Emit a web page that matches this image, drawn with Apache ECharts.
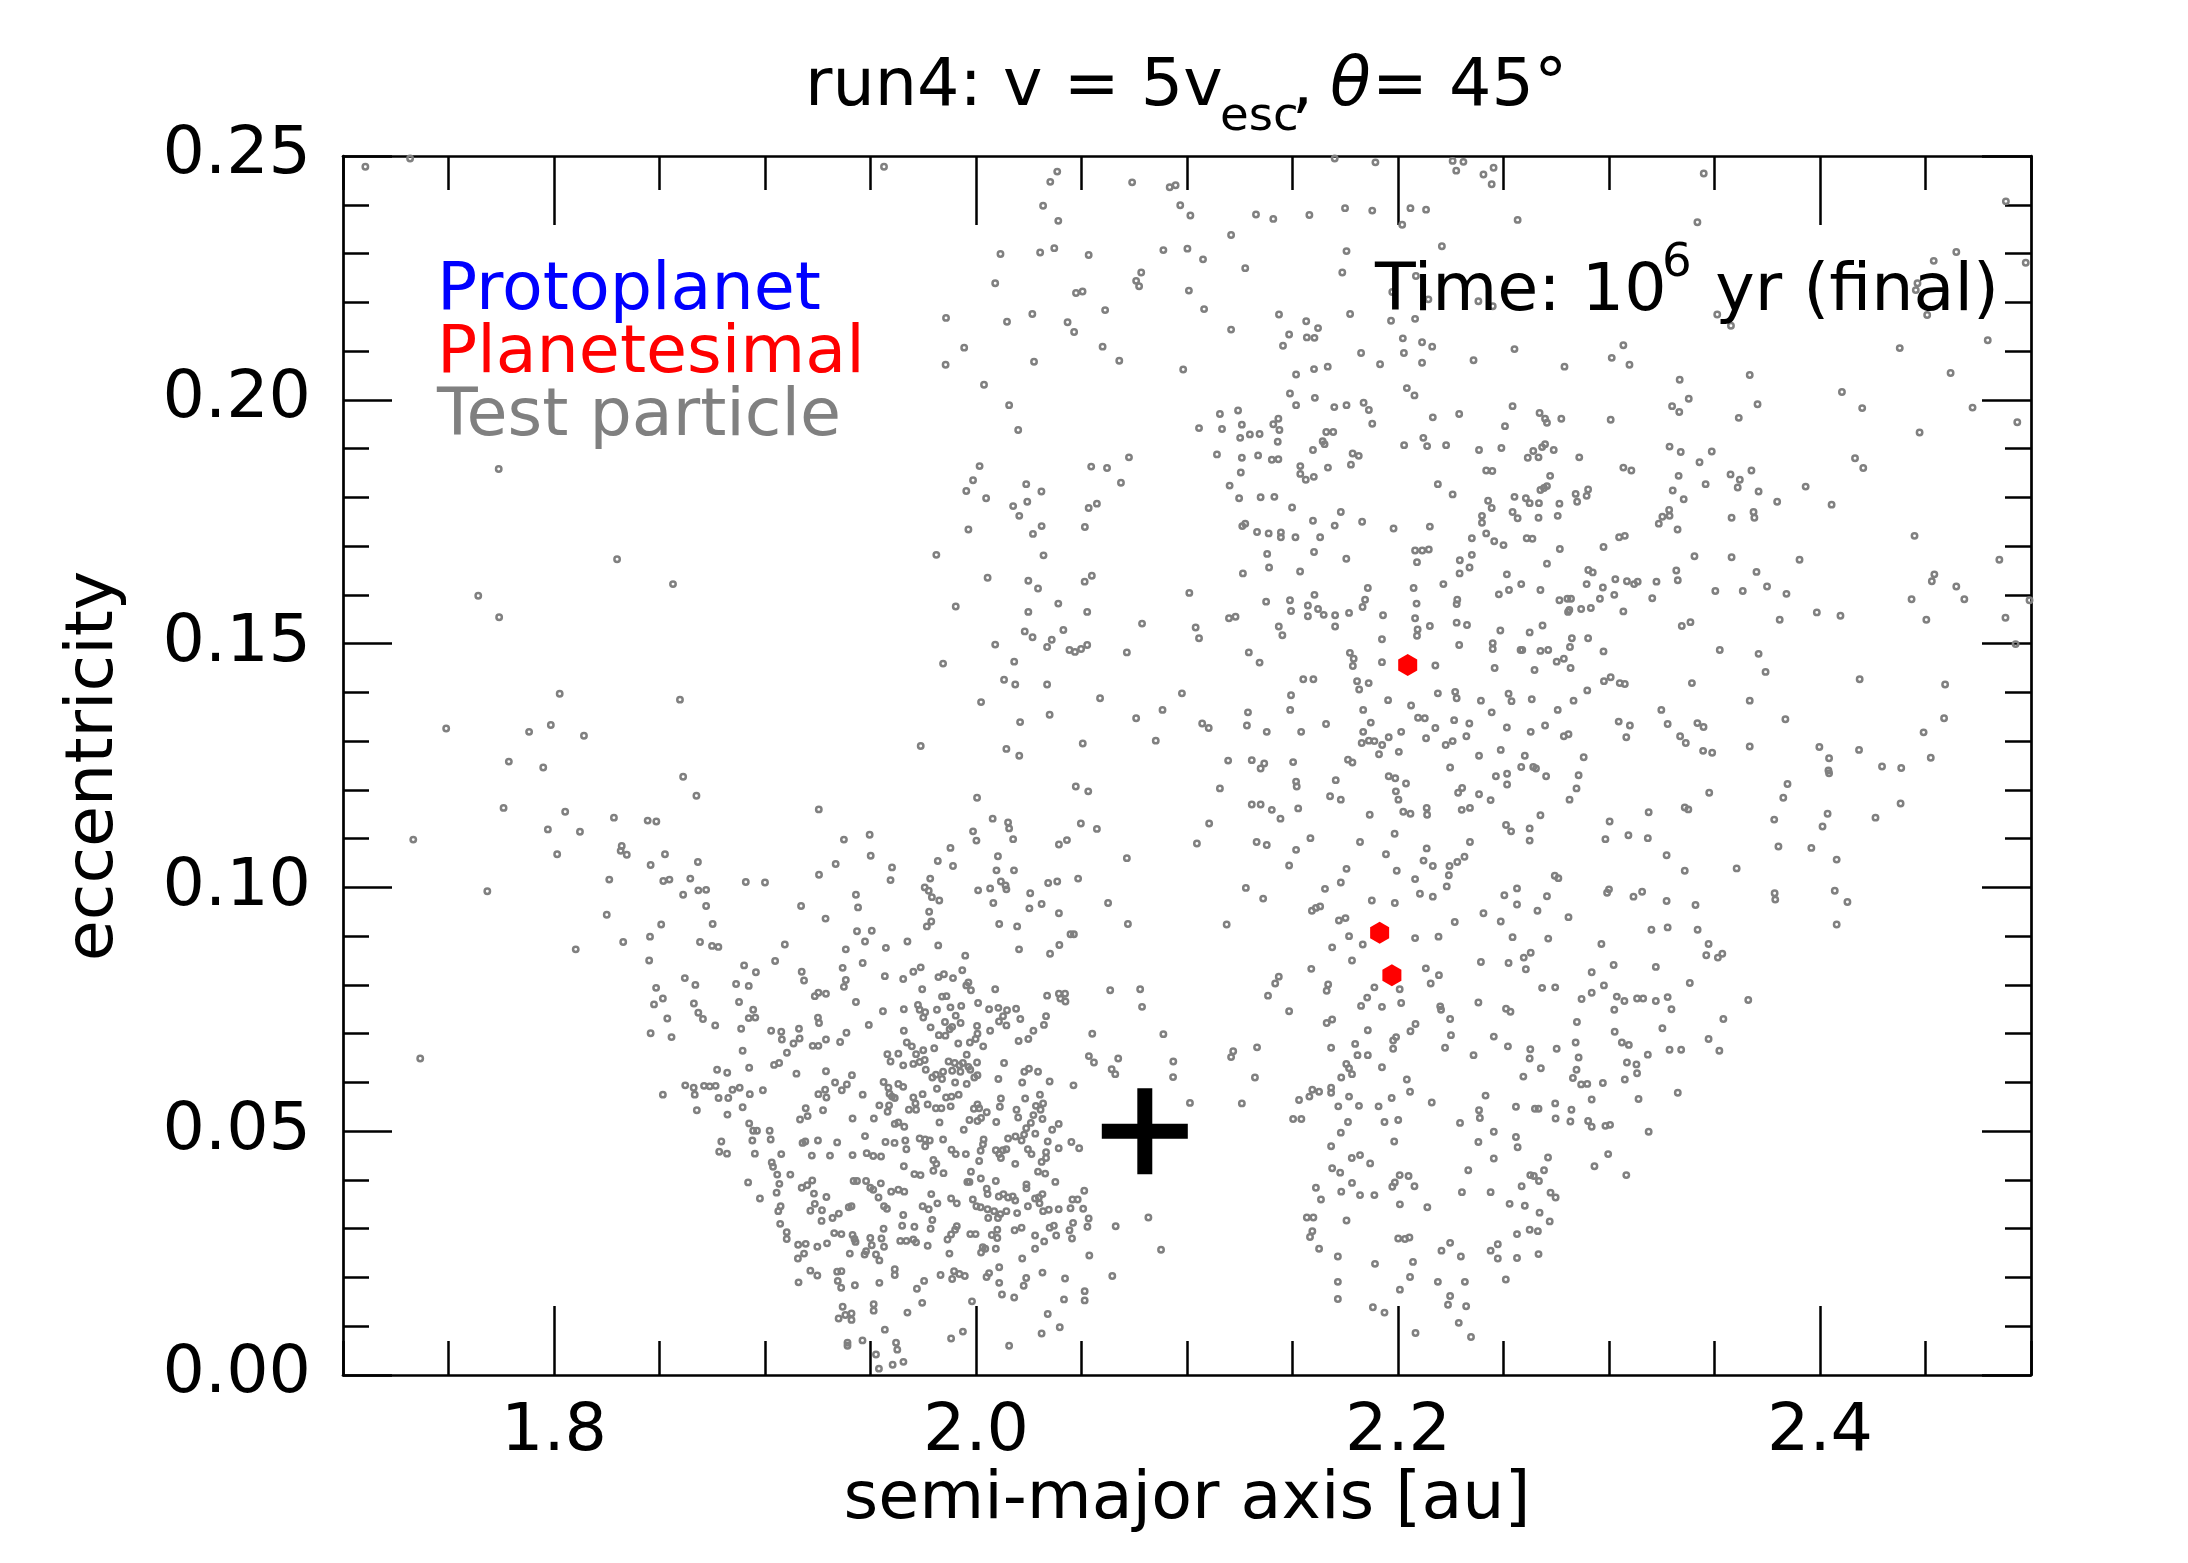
<!DOCTYPE html>
<html>
<head>
<meta charset="utf-8">
<script src="https://cdn.jsdelivr.net/npm/echarts@6/dist/echarts.min.js"></script>
<style>html,body{margin:0;padding:0;background:#fff}#c{width:2188px;height:1563px}</style>
</head>
<body>
<div id="c"></div>
<script>
// ---------------- data ----------------
const xMajorTicks = [1.8, 2.0, 2.2, 2.4];
const protoplanet = [[2.08, 0.05]];
const planetesimals = [[2.2046, 0.1456], [2.1913, 0.0907], [2.1971, 0.0820]];

const tpUpperLeft = [[1.7106,0.2478],[1.7318,0.2495],[1.9564,0.2478],[1.7738,0.1858],[1.8299,0.1673],[1.8564,0.1622],[1.7641,0.1598],[1.774,0.1554],[1.8027,0.1397],[1.8597,0.1385],[1.7489,0.1326],[1.7882,0.1319],[1.7985,0.1333],[1.8142,0.1311],[1.7786,0.1258],[1.7949,0.1246]];

const tpLowerLeft = [[1.8612,0.1227],[1.8675,0.1188],[1.7761,0.1163],[1.8053,0.1155],[1.7333,0.1098],[1.7971,0.1119],[1.8123,0.1114],[1.8284,0.1143],[1.8444,0.1137],[1.8485,0.1135],[1.9255,0.1160],[1.9496,0.1108],[1.9374,0.1098],[1.8015,0.1068],[1.8321,0.1085],[1.8316,0.1075],[1.8345,0.1067],[1.8526,0.1068],[1.8458,0.1046],[1.8682,0.1052],[1.9501,0.1065],[1.9602,0.1041],[1.9595,0.1015],[1.9335,0.1048],[1.9256,0.1026],[1.8262,0.1016],[1.8518,0.1013],[1.8547,0.1016],[1.8646,0.1018],[1.8612,0.0985],[1.8684,0.0994],[1.8721,0.0995],[1.8909,0.1011],[1.9,0.1010],[1.7684,0.0992],[1.8721,0.0962],[1.9171,0.0962],[1.9431,0.0985],[1.9441,0.0959],[1.9287,0.0936],[1.825,0.0944],[1.8508,0.0924],[1.8752,0.0925],[1.8455,0.0899],[1.8328,0.0888],[1.8103,0.0873],[1.8692,0.0888],[1.8749,0.0880],[1.8779,0.0878],[1.9094,0.0883],[1.9436,0.0910],[1.9506,0.0911],[1.9474,0.0889],[1.9383,0.0873],[1.9573,0.0876],[1.9675,0.0889],[1.8451,0.0850],[1.9048,0.0849],[1.9463,0.0845],[1.8901,0.0840],[1.8957,0.0826],[1.9174,0.0827],[1.9185,0.0809],[1.9368,0.0835],[1.9383,0.0810],[1.9374,0.0796],[1.9568,0.0818],[1.9655,0.0812],[1.862,0.0814],[1.867,0.0800],[1.8863,0.0802],[1.8923,0.0798],[1.8484,0.0794],[1.9236,0.0777],[1.9253,0.0784],[1.9289,0.0782],[1.8474,0.0760],[1.8516,0.0772],[1.8663,0.0762],[1.8877,0.0765],[1.9431,0.0765],[1.9559,0.0746],[1.9658,0.0750],[1.8684,0.0743],[1.8706,0.0730],[1.8537,0.0731],[1.8764,0.0717],[1.8944,0.0749],[1.8923,0.0732],[1.8954,0.0733],[1.8887,0.0710],[1.9251,0.0733],[1.9256,0.0722],[1.9492,0.0718],[1.8458,0.0701],[1.8557,0.0693],[1.9029,0.0706],[1.9077,0.0704],[1.908,0.0688],[1.9161,0.0710],[1.9164,0.0690],[1.9135,0.0680],[1.9104,0.0661],[1.9226,0.0675],[1.9253,0.0675],[1.9289,0.0688],[1.9356,0.0683],[1.9386,0.0702],[1.9658,0.0706],[1.9672,0.0682],[1.8894,0.0665],[1.958,0.0658],[1.9632,0.0659],[1.9595,0.0643],[1.9655,0.0635],[1.7366,0.0649],[1.8773,0.0626],[1.8821,0.0620],[1.8925,0.0630],[1.9043,0.0636],[1.9067,0.0640],[1.9149,0.0618],[1.9289,0.0623],[1.9412,0.0615],[1.9332,0.0600],[1.9388,0.0596],[1.9364,0.0584],[1.9285,0.0585],[1.9253,0.0576],[1.9291,0.0569],[1.9562,0.0601],[1.9585,0.0589],[1.9632,0.0597],[1.9655,0.0591],[1.9590,0.0577],[1.9602,0.0571],[1.9615,0.0568],[1.8622,0.0594],[1.8662,0.0589],[1.8667,0.0575],[1.8711,0.0593],[1.8738,0.0592],[1.8766,0.0593],[1.8846,0.0585],[1.888,0.0589],[1.899,0.0584],[1.8928,0.0576],[1.878,0.0568],[1.8826,0.0568],[1.8516,0.0575],[1.9463,0.0575],[1.9542,0.0553],[1.9588,0.0553],[1.9581,0.0540],[1.8894,0.0549],[1.9275,0.0543],[1.8677,0.0543],[1.8822,0.0534],[1.9193,0.0547],[1.9202,0.0531],[1.9166,0.0524],[1.9415,0.0526],[1.9516,0.0526],[1.9615,0.0515],[1.9632,0.0518],[1.966,0.0509],[1.8925,0.0516],[1.8944,0.0501],[1.8962,0.0501],[1.894,0.0481],[1.9022,0.0501],[1.9027,0.0483],[1.8793,0.0479],[1.8783,0.0458],[1.882,0.0454],[1.9178,0.0476],[1.9191,0.0479],[1.9251,0.0481],[1.9342,0.0477],[1.9474,0.0490],[1.9571,0.0478],[1.9614,0.0476],[1.9665,0.0481],[1.967,0.0463],[1.8952,0.0454],[1.9077,0.0453],[1.9222,0.0450],[1.9308,0.0450],[1.9415,0.0451],[1.9482,0.0455],[1.9513,0.0449],[1.955,0.0448],[1.9032,0.0436],[1.9038,0.0427],[1.9058,0.0411],[1.9658,0.0428],[1.912,0.0411],[1.892,0.0395],[1.9068,0.0392],[1.9055,0.0374],[1.8976,0.0362],[1.9174,0.0384],[1.92,0.0389],[1.9224,0.0399],[1.9232,0.0372],[1.9291,0.0365],[1.942,0.0398],[1.9436,0.0398],[1.9479,0.0398],[1.9499,0.0384],[1.9513,0.0380],[1.9549,0.0393],[1.9538,0.0364],[1.9598,0.0376],[1.9632,0.0380],[1.966,0.0376],[1.9236,0.0351],[1.9215,0.0337],[1.927,0.0338],[1.9268,0.0316],[1.9074,0.0346],[1.9063,0.0336],[1.9072,0.0310],[1.932,0.0322],[1.935,0.0331],[1.9397,0.0344],[1.941,0.0346],[1.9564,0.0346],[1.9578,0.0341],[1.9655,0.0328],[1.965,0.0306],[1.9562,0.0300],[1.9103,0.0293],[1.9103,0.0279],[1.9328,0.0291],[1.9362,0.0289],[1.9415,0.0287],[1.9424,0.0279],[1.9429,0.0273],[1.9499,0.0281],[1.9552,0.0280],[1.9641,0.0275],[1.967,0.0275],[1.9157,0.0267],[1.9193,0.0269],[1.9248,0.0263],[1.9294,0.0270],[1.9564,0.0263],[1.9506,0.0266],[1.9479,0.0254],[1.9472,0.0247],[1.9526,0.0247],[1.9542,0.0235],[1.9402,0.0249],[1.9185,0.0249],[1.9156,0.0239],[1.9215,0.0214],[1.9248,0.0204],[1.9342,0.0212],[1.9362,0.0213],[1.9345,0.0193],[1.9361,0.0179],[1.9159,0.0190],[1.9426,0.0184],[1.9542,0.0189],[1.9615,0.0217],[1.9615,0.0205],[1.9675,0.0128],[1.9368,0.0140],[1.941,0.0126],[1.9381,0.0123],[1.9349,0.0116],[1.941,0.0113],[1.9515,0.0145],[1.9515,0.0132],[1.9568,0.0093],[1.9391,0.0066],[1.9391,0.0060],[1.9462,0.0071],[1.9621,0.0066],[1.9627,0.0052],[1.9526,0.0042],[1.954,0.0013],[1.9605,0.0021],[1.9656,0.0027]];

const tpLowerMid = [[2.0005,0.1184],[2.0473,0.1207],[2.0532,0.1197],[2.0079,0.1141],[2.0152,0.1133],[2.0157,0.1121],[1.9986,0.1115],[2.0002,0.1096],[2.0176,0.1099],[1.9879,0.1081],[1.9819,0.1054],[1.9891,0.1044],[2.0104,0.1064],[2.0097,0.1035],[2.0180,0.1035],[2.0393,0.1088],[2.0431,0.1097],[2.0497,0.1131],[2.0573,0.1120],[2.0715,0.1060],[1.9783,0.1018],[1.9757,0.1000],[1.9776,0.0993],[1.9791,0.0980],[1.9826,0.0973],[2.0010,0.0994],[2.0067,0.0998],[2.0118,0.1012],[2.0140,0.1004],[2.0144,0.0996],[2.0082,0.0968],[2.0257,0.0988],[2.0253,0.0957],[2.0311,0.0966],[2.0342,0.1009],[2.0385,0.1012],[2.0484,0.1018],[2.0626,0.0968],[1.9778,0.0950],[1.9788,0.0930],[1.9767,0.0920],[2.0110,0.0925],[2.0195,0.0920],[2.0393,0.0947],[2.0720,0.0925],[1.9821,0.0881],[2.0204,0.0873],[2.0351,0.0864],[2.0395,0.0882],[2.0448,0.0904],[2.0464,0.0904],[1.9949,0.0860],[1.9703,0.0827],[1.9738,0.0836],[1.9822,0.0816],[1.9848,0.0822],[1.9891,0.0814],[1.9935,0.0830],[1.9954,0.0799],[1.9964,0.0805],[1.9976,0.0789],[1.9745,0.0791],[2.0091,0.0791],[2.0337,0.0778],[2.0393,0.0782],[2.0422,0.0782],[2.0400,0.0772],[2.0424,0.0766],[2.0636,0.0789],[2.0778,0.0791],[2.0787,0.0755],[1.9839,0.0776],[1.9860,0.0777],[2.0010,0.0763],[1.9930,0.0757],[1.9879,0.0754],[1.9815,0.0749],[1.9725,0.0759],[1.9733,0.0749],[1.9759,0.0744],[1.9750,0.0733],[2.0062,0.0750],[2.0106,0.0753],[2.0147,0.0748],[2.0190,0.0751],[2.0128,0.0736],[2.0109,0.0725],[2.0144,0.0717],[2.0210,0.0730],[1.9904,0.0737],[1.9927,0.0722],[1.9853,0.0724],[1.9875,0.0709],[1.9887,0.0714],[1.9785,0.0713],[2.0005,0.0716],[2.0332,0.0736],[2.0322,0.0718],[2.0272,0.0706],[2.0248,0.0689],[2.0202,0.0685],[2.0067,0.0706],[2.0007,0.0700],[1.9998,0.0689],[1.9971,0.0682],[1.9916,0.0680],[2.0034,0.0674],[1.9824,0.0697],[1.9855,0.0696],[1.9802,0.0670],[2.0551,0.0700],[2.0888,0.0699],[1.9696,0.0674],[1.9716,0.0658],[1.9750,0.0666],[1.9733,0.0642],[1.9703,0.0638],[1.9757,0.0646],[1.9956,0.0657],[1.9870,0.0643],[1.9899,0.0640],[1.9921,0.0635],[1.9938,0.0640],[1.9964,0.0632],[2.0005,0.0641],[2.0133,0.0640],[1.9762,0.0626],[1.9810,0.0616],[1.9844,0.0622],[1.9887,0.0624],[1.9926,0.0622],[1.9973,0.0626],[2.0007,0.0615],[1.9992,0.0610],[1.9793,0.0610],[1.9839,0.0607],[1.9901,0.0600],[1.9956,0.0597],[2.0106,0.0607],[2.0229,0.0622],[2.0251,0.0628],[2.0294,0.0622],[2.0219,0.0600],[2.0349,0.0602],[2.0462,0.0594],[2.0535,0.0654],[2.0559,0.0641],[2.0674,0.0649],[2.0643,0.0627],[2.0660,0.0617],[2.0935,0.0643],[2.0934,0.0611],[1.9815,0.0587],[1.9703,0.0569],[1.9747,0.0576],[1.9713,0.0557],[1.9771,0.0555],[1.9682,0.0544],[1.9716,0.0544],[1.9858,0.0569],[1.9884,0.0571],[1.9918,0.0575],[1.9880,0.0551],[1.9810,0.0547],[1.9836,0.0547],[2.0118,0.0567],[2.0113,0.0550],[1.9990,0.0546],[2.0007,0.0555],[2.0015,0.0547],[2.0051,0.0539],[2.0233,0.0567],[2.0303,0.0575],[2.0318,0.0557],[2.0284,0.0552],[2.0306,0.0544],[2.0192,0.0544],[2.0200,0.0528],[2.0272,0.0533],[2.0315,0.0525],[1.9827,0.0518],[1.9969,0.0523],[2.0007,0.0521],[2.0024,0.0527],[2.0096,0.0519],[1.9942,0.0503],[2.0392,0.0515],[2.0361,0.0503],[2.0238,0.0506],[2.0260,0.0517],[1.9733,0.0485],[1.9759,0.0483],[1.9781,0.0481],[1.9844,0.0483],[2.0036,0.0483],[2.0033,0.0473],[2.0022,0.0460],[2.0152,0.0485],[2.0187,0.0489],[2.0216,0.0481],[2.0228,0.0493],[2.0281,0.0495],[2.0340,0.0479],[2.0452,0.0478],[2.0489,0.0465],[2.0392,0.0465],[1.9759,0.0469],[1.9884,0.0462],[1.9904,0.0453],[1.9952,0.0453],[2.0015,0.0439],[2.0094,0.0461],[2.0110,0.0453],[2.0127,0.0461],[2.0144,0.0463],[2.0118,0.0445],[2.0246,0.0463],[2.0263,0.0453],[2.0332,0.0457],[2.0332,0.0445],[2.0311,0.0437],[2.0186,0.0433],[1.9798,0.0441],[1.9812,0.0433],[1.9798,0.0419],[1.9846,0.0414],[1.9708,0.0412],[1.9737,0.0410],[1.9976,0.0417],[1.9969,0.0396],[1.9959,0.0396],[2.0023,0.0403],[2.0094,0.0398],[2.0051,0.0382],[2.0055,0.0371],[2.0294,0.0417],[2.0328,0.0413],[2.0376,0.0396],[2.0239,0.0391],[2.0239,0.0383],[2.0513,0.0378],[1.9788,0.0371],[1.9882,0.0362],[1.9909,0.0352],[1.9985,0.0360],[2.0002,0.0346],[2.0022,0.0344],[2.0055,0.0340],[2.0086,0.0336],[2.0108,0.0366],[2.0130,0.0371],[2.0152,0.0364],[2.0174,0.0366],[2.0186,0.0358],[2.0115,0.0330],[2.0144,0.0336],[2.0195,0.0332],[2.0246,0.0346],[2.0280,0.0362],[2.0298,0.0364],[2.0315,0.0371],[2.0301,0.0352],[2.0318,0.0336],[2.0345,0.0339],[2.0392,0.0340],[2.0457,0.0360],[2.0482,0.0360],[2.0448,0.0342],[2.0508,0.0341],[2.0534,0.0321],[1.9747,0.0346],[1.9776,0.0340],[1.9817,0.0352],[1.9793,0.0318],[2.0058,0.0322],[2.0104,0.0322],[1.9708,0.0304],[1.9785,0.0300],[1.9909,0.0305],[1.9901,0.0298],[1.9882,0.0288],[1.9865,0.0278],[1.9973,0.0289],[1.9998,0.0289],[2.0075,0.0287],[2.0101,0.0298],[2.0101,0.0281],[2.0183,0.0297],[2.0216,0.0302],[2.0280,0.0286],[2.0349,0.0302],[2.0369,0.0306],[2.0380,0.0286],[2.0323,0.0274],[2.0443,0.0297],[2.0460,0.0312],[2.0455,0.0280],[2.0528,0.0304],[2.0662,0.0305],[2.0817,0.0323],[1.9703,0.0278],[1.9716,0.0272],[1.9771,0.0265],[2.0032,0.0262],[2.0044,0.0259],[2.0024,0.0251],[2.0094,0.0259],[1.9874,0.0249],[2.0280,0.0259],[2.0219,0.0239],[2.0537,0.0245],[2.0877,0.0257],[2.0110,0.0221],[1.9832,0.0205],[1.9896,0.0213],[1.9887,0.0197],[1.9921,0.0207],[1.9947,0.0203],[2.0050,0.0201],[2.0062,0.0209],[2.0110,0.0189],[2.0238,0.0199],[2.0226,0.0183],[2.0315,0.0210],[2.0422,0.0198],[2.0646,0.0203],[1.9754,0.0193],[1.9720,0.0177],[1.9745,0.0148],[1.9981,0.0151],[2.0123,0.0165],[2.0181,0.0159],[2.0417,0.0155],[2.0515,0.0172],[2.0515,0.0153],[2.0340,0.0125],[1.9882,0.0075],[1.9938,0.0089],[2.0311,0.0085],[2.0397,0.0098],[2.0157,0.0060]];

const tpLowerCentre = [[2.1156,0.1203],[2.1517,0.1217],[2.1520,0.1207],[2.1705,0.1220],[2.1678,0.1187],[2.1729,0.1180],[2.1956,0.1228],[2.1987,0.1224],[2.2038,0.1213],[2.1990,0.1197],[2.2002,0.1180],[2.1307,0.1170],[2.1349,0.1170],[2.1402,0.1159],[2.1443,0.1141],[2.1527,0.1162],[2.1866,0.1149],[2.2025,0.1155],[2.2059,0.1151],[2.2136,0.1163],[2.2138,0.1149],[2.2285,0.1194],[2.2304,0.1204],[2.2302,0.1159],[2.2341,0.1163],[2.1105,0.1131],[2.1047,0.1090],[2.1330,0.1093],[2.1378,0.1087],[2.1585,0.1101],[2.1517,0.1077],[2.1484,0.1045],[2.1820,0.1093],[2.1984,0.1110],[2.1943,0.1068],[2.2136,0.1080],[2.2121,0.1055],[2.2165,0.1044],[2.2244,0.1044],[2.2281,0.1052],[2.2315,0.1063],[2.2341,0.1093],[2.1994,0.1034],[2.1756,0.1038],[2.1729,0.1010],[2.1654,0.0997],[2.2241,0.1025],[2.2231,0.1002],[2.2081,0.1017],[2.2104,0.0987],[2.2165,0.0981],[2.1279,0.0999],[2.1361,0.0977],[2.1876,0.0973],[2.1985,0.0968],[2.1592,0.0952],[2.1611,0.0958],[2.1631,0.0961],[2.1720,0.0932],[2.1751,0.0937],[2.2269,0.0929],[2.1188,0.0924],[2.1768,0.0900],[2.1688,0.0877],[2.1833,0.0883],[2.2081,0.0896],[2.2192,0.0899],[2.1782,0.0850],[2.1589,0.0833],[2.2132,0.0834],[2.2194,0.0820],[2.2155,0.0803],[2.1435,0.0817],[2.1418,0.0803],[2.1384,0.0778],[2.1669,0.0801],[2.1662,0.0788],[2.1888,0.0795],[2.1854,0.0774],[2.1825,0.0757],[2.2008,0.0791],[2.1924,0.0755],[2.2015,0.0763],[2.1484,0.0746],[2.2200,0.0756],[2.2204,0.0749],[2.2247,0.0730],[2.1662,0.0722],[2.1688,0.0729],[2.1857,0.0707],[2.2059,0.0705],[2.2083,0.0720],[2.1977,0.0686],[2.1991,0.0693],[2.1977,0.0669],[2.2251,0.0697],[2.2223,0.0671],[2.2358,0.0656],[2.1797,0.0679],[2.1683,0.0671],[2.1808,0.0656],[2.1857,0.0656],[2.1332,0.0672],[2.1219,0.0664],[2.1209,0.0652],[2.1755,0.0638],[2.1768,0.0629],[2.1782,0.0617],[2.1731,0.0610],[2.1924,0.0631],[2.2042,0.0606],[2.2057,0.0581],[2.1322,0.0610],[2.1014,0.0558],[2.1260,0.0557],[2.1531,0.0564],[2.1580,0.0571],[2.1594,0.0585],[2.1626,0.0581],[2.1683,0.0589],[2.1683,0.0579],[2.1768,0.0571],[2.1717,0.0551],[2.1815,0.0552],[2.1908,0.0551],[2.1970,0.0568],[2.2160,0.0559],[2.1503,0.0525],[2.1542,0.0525],[2.1763,0.0519],[2.1936,0.0519],[2.2001,0.0523],[2.1729,0.0497],[2.2294,0.0517],[2.1982,0.0479],[2.1683,0.0469],[2.1781,0.0445],[2.1820,0.0451],[2.1868,0.0434],[2.1688,0.0424],[2.1726,0.0415],[2.2333,0.0420],[2.1782,0.0394],[2.2008,0.0410],[2.2050,0.0408],[2.1985,0.0395],[2.1973,0.0386],[2.2078,0.0387],[2.1611,0.0384],[2.1635,0.0360],[2.1731,0.0376],[2.1820,0.0369],[2.1888,0.0369],[2.2303,0.0375],[2.2009,0.0350],[2.2139,0.0344],[2.1568,0.0323],[2.1599,0.0323],[2.1756,0.0317],[2.1594,0.0295],[2.1583,0.0283],[2.1626,0.0259],[2.2001,0.0280],[2.2033,0.0279],[2.2054,0.0282],[2.1715,0.0243],[2.2206,0.0255],[2.2247,0.0271],[2.2298,0.0243],[2.1891,0.0228],[2.2071,0.0232],[2.2057,0.0201],[2.1715,0.0191],[2.2009,0.0175],[2.2189,0.0191],[2.2317,0.0191],[2.1715,0.0156],[2.2247,0.0162],[2.2237,0.0144],[2.2323,0.0141],[2.1881,0.0139],[2.1936,0.0128],[2.2083,0.0086],[2.2288,0.0107],[2.2346,0.0078]];

const tpLowerRight = [[2.2464,0.1228],[2.2517,0.1233],[2.2517,0.1211],[2.2702,0.1228],[2.2856,0.1230],[2.2384,0.1191],[2.2439,0.1179],[2.2813,0.1180],[2.2846,0.1203],[2.2675,0.1148],[2.2512,0.1128],[2.2536,0.1115],[2.2624,0.1121],[2.2624,0.1096],[2.3003,0.1135],[2.2983,0.1099],[2.3092,0.1107],[2.3184,0.1101],[2.3188,0.1154],[2.3359,0.1164],[2.3376,0.1160],[2.3475,0.1194],[2.3273,0.1066],[2.3359,0.1034],[2.3605,0.1039],[2.3783,0.1139],[2.3826,0.1184],[2.3846,0.1212],[2.3803,0.1084],[2.3959,0.1081],[2.4043,0.1234],[2.4036,0.1151],[2.4012,0.1125],[2.4079,0.1057],[2.4263,0.1143],[2.4382,0.1172],[2.3785,0.0988],[2.3788,0.0975],[2.4070,0.0993],[2.4130,0.0970],[2.4079,0.0924],[2.2743,0.1024],[2.2760,0.1019],[2.2564,0.0998],[2.2504,0.0984],[2.2564,0.0965],[2.2706,0.0982],[2.2405,0.0947],[2.2487,0.0930],[2.2661,0.0952],[2.2808,0.0939],[2.2991,0.0989],[2.3000,0.0996],[2.3116,0.0981],[2.3157,0.0991],[2.3273,0.0972],[2.3410,0.0964],[2.2543,0.0898],[2.2712,0.0895],[2.3201,0.0913],[2.3278,0.0918],[2.3420,0.0913],[2.2964,0.0884],[2.3472,0.0884],[2.3461,0.0861],[2.3516,0.0856],[2.3537,0.0864],[2.2393,0.0847],[2.2524,0.0845],[2.2596,0.0856],[2.2629,0.0866],[2.2606,0.0832],[2.3022,0.0841],[2.3222,0.0837],[2.2918,0.0826],[2.3383,0.0804],[2.2683,0.0794],[2.2745,0.0795],[2.2976,0.0799],[2.2918,0.0784],[2.2870,0.0771],[2.3037,0.0776],[2.3073,0.0767],[2.3133,0.0772],[2.3162,0.0772],[2.3222,0.0767],[2.3278,0.0775],[2.3296,0.0750],[2.3025,0.0749],[2.3660,0.0769],[2.2381,0.0764],[2.2512,0.0751],[2.2533,0.0745],[2.3542,0.0730],[2.2848,0.0724],[2.3253,0.0711],[2.3027,0.0704],[2.2454,0.0694],[2.3472,0.0689],[2.2521,0.0674],[2.2627,0.0668],[2.2624,0.0649],[2.2752,0.0669],[2.2842,0.0682],[2.3061,0.0682],[2.3094,0.0677],[2.3287,0.0667],[2.3342,0.0667],[2.3523,0.0665],[2.3184,0.0657],[2.2856,0.0651],[2.3085,0.0641],[2.3130,0.0637],[2.3133,0.0619],[2.2677,0.0629],[2.2846,0.0626],[2.2829,0.0609],[2.2594,0.0612],[2.2868,0.0596],[2.2897,0.0597],[2.2971,0.0599],[2.3075,0.0606],[2.3326,0.0579],[2.2415,0.0573],[2.2918,0.0565],[2.3140,0.0566],[2.2384,0.0543],[2.2388,0.0527],[2.2559,0.0550],[2.2649,0.0546],[2.2666,0.0546],[2.2745,0.0557],[2.2747,0.0526],[2.2822,0.0544],[2.2817,0.0520],[2.2901,0.0521],[2.2918,0.0509],[2.2983,0.0511],[2.3005,0.0513],[2.3188,0.0499],[2.2454,0.0499],[2.2381,0.0478],[2.2559,0.0488],[2.2567,0.0467],[2.2454,0.0444],[2.2711,0.0446],[2.2996,0.0453],[2.2931,0.0428],[2.3082,0.0410],[2.2627,0.0410],[2.2644,0.0408],[2.2668,0.0398],[2.2692,0.0420],[2.2439,0.0375],[2.2586,0.0387],[2.2723,0.0374],[2.2747,0.0364],[2.2529,0.0351],[2.2601,0.0347],[2.2671,0.0333],[2.2719,0.0315],[2.2564,0.0289],[2.2624,0.0298],[2.2663,0.0295],[2.2439,0.0255],[2.2473,0.0268],[2.2473,0.0239],[2.2564,0.0240],[2.2666,0.0248],[2.2511,0.0196]];

const tpUpperMid = [[2.0385,0.2468],[2.0352,0.2447],[2.0318,0.2398],[2.0390,0.2367],[2.0740,0.2446],[2.0918,0.2436],[2.0946,0.2440],[2.0968,0.2399],[2.1016,0.2378],[2.1209,0.2338],[2.1327,0.2380],[2.1409,0.2371],[2.1580,0.2379],[2.1700,0.2495],[2.1749,0.2393],[2.1878,0.2388],[2.1893,0.2487],[2.2020,0.2359],[2.2059,0.2393],[2.2133,0.2390],[2.2259,0.2490],[2.2310,0.2488],[2.2276,0.2470],[2.2208,0.2315],[2.0116,0.2299],[2.0304,0.2302],[2.0371,0.2311],[2.0534,0.2297],[2.0888,0.2307],[2.1002,0.2310],[2.1076,0.2288],[2.1276,0.2270],[2.1756,0.2305],[2.1736,0.2261],[2.2085,0.2254],[2.0091,0.2239],[2.0783,0.2261],[2.0759,0.2244],[2.0773,0.2233],[2.0474,0.2219],[2.0505,0.2222],[2.1009,0.2224],[2.1973,0.2221],[2.2144,0.2206],[1.9858,0.2168],[2.0147,0.2160],[2.0267,0.2176],[2.0434,0.2159],[2.0465,0.2139],[2.0612,0.2184],[2.1081,0.2186],[2.1209,0.2144],[2.1436,0.2175],[2.1565,0.2161],[2.1621,0.2147],[2.1568,0.2128],[2.1604,0.2127],[2.1484,0.2134],[2.1455,0.2111],[2.1773,0.2176],[2.1967,0.2162],[2.2081,0.2166],[2.2023,0.2126],[2.2028,0.2096],[2.2114,0.2118],[2.2162,0.2109],[2.2114,0.2076],[2.1825,0.2096],[2.1915,0.2073],[2.2358,0.2081],[1.9944,0.2107],[1.9856,0.2072],[2.0275,0.2078],[2.0600,0.2109],[2.0679,0.2080],[2.0982,0.2062],[2.1517,0.2052],[2.1602,0.2063],[2.1667,0.2068],[2.0038,0.2031],[2.0157,0.1989],[2.0200,0.1938],[2.1488,0.2013],[2.1517,0.1989],[2.1606,0.2004],[2.2042,0.2024],[2.2078,0.2009],[2.1698,0.1985],[2.1756,0.1989],[2.1837,0.1994],[2.1862,0.1979],[2.1878,0.1951],[2.2165,0.1964],[2.2290,0.1971],[2.1156,0.1971],[2.1242,0.1978],[2.1057,0.1942],[2.1166,0.1940],[2.1260,0.1949],[2.1252,0.1922],[2.1298,0.1929],[2.1344,0.1930],[2.1409,0.1950],[2.1433,0.1961],[2.1438,0.1938],[2.1430,0.1914],[2.1660,0.1934],[2.1693,0.1934],[2.1643,0.1915],[2.1652,0.1909],[2.1597,0.1897],[2.2120,0.1922],[2.2138,0.1905],[2.2029,0.1907],[2.2228,0.1907],[2.1142,0.1888],[2.1260,0.1881],[2.1337,0.1886],[2.1402,0.1877],[2.1433,0.1878],[2.1537,0.1864],[2.1537,0.1848],[2.1563,0.1836],[2.1601,0.1842],[2.1668,0.1861],[2.1785,0.1890],[2.1814,0.1885],[2.1777,0.1867],[2.0017,0.1864],[1.9986,0.1835],[1.9954,0.1813],[2.0048,0.1798],[2.0546,0.1863],[2.0621,0.1860],[2.0725,0.1882],[2.0687,0.1830],[2.0238,0.1827],[2.0310,0.1812],[2.0243,0.1791],[2.0176,0.1782],[2.0205,0.1762],[2.0534,0.1778],[2.0573,0.1787],[2.1255,0.1851],[2.1202,0.1824],[2.1247,0.1798],[2.1349,0.1800],[2.1414,0.1801],[2.2189,0.1827],[2.2259,0.1806],[2.1498,0.1779],[2.1729,0.1770],[2.1597,0.1752],[2.1700,0.1742],[2.1830,0.1750],[2.1979,0.1736],[2.2151,0.1740],[2.2350,0.1716],[1.9964,0.1734],[2.0270,0.1725],[2.0311,0.1741],[2.0516,0.1739],[2.1262,0.1741],[2.1276,0.1746],[2.1332,0.1729],[2.1387,0.1726],[2.1445,0.1728],[2.1445,0.1718],[2.1514,0.1718],[2.1631,0.1718],[1.9812,0.1682],[2.0320,0.1681],[2.1380,0.1684],[2.1389,0.1656],[2.1602,0.1688],[2.1755,0.1674],[2.2081,0.1691],[2.2115,0.1691],[2.2146,0.1693],[2.2090,0.1667],[2.2293,0.1671],[2.2292,0.1644],[2.2339,0.1656],[2.2350,0.1682],[2.0055,0.1635],[2.0248,0.1629],[2.0294,0.1613],[2.0515,0.1627],[2.0549,0.1639],[2.1265,0.1644],[2.1536,0.1648],[2.2215,0.1622],[1.9904,0.1576],[2.0390,0.1582],[2.0248,0.1565],[2.0527,0.1565],[2.1011,0.1604],[2.1375,0.1586],[2.1488,0.1589],[2.1493,0.1567],[2.1604,0.1600],[2.1573,0.1578],[2.1573,0.1556],[2.1621,0.1571],[2.1648,0.1559],[2.1702,0.1558],[2.1702,0.1535],[2.1768,0.1563],[2.1857,0.1614],[2.1844,0.1590],[2.1832,0.1575],[2.1929,0.1558],[2.2074,0.1614],[2.2088,0.1582],[2.2081,0.1552],[2.2093,0.1529],[2.2090,0.1516],[2.2151,0.1536],[2.2281,0.1590],[2.2278,0.1581],[2.2278,0.1543],[2.2327,0.1538],[2.2290,0.1497],[2.1199,0.1552],[2.1230,0.1555],[2.0787,0.1541],[2.1041,0.1533],[2.1057,0.1511],[2.1435,0.1535],[2.1452,0.1517],[2.1924,0.1509],[2.0231,0.1525],[2.0268,0.1513],[2.0414,0.1528],[2.0359,0.1508],[2.0337,0.1493],[2.0091,0.1498],[2.0443,0.1487],[2.0469,0.1483],[2.0498,0.1489],[2.0527,0.1497],[2.0715,0.1482],[1.9844,0.1459],[2.0181,0.1463],[2.1293,0.1482],[2.1344,0.1461],[2.1772,0.1481],[2.1790,0.1469],[2.1786,0.1454],[2.1924,0.1462],[2.2177,0.1455],[2.0133,0.1426],[2.0186,0.1416],[2.0337,0.1416],[2.1551,0.1427],[2.1599,0.1427],[2.1806,0.1423],[2.1816,0.1406],[2.1861,0.1419],[2.0024,0.1380],[2.0588,0.1388],[2.0976,0.1398],[2.1493,0.1394],[2.1489,0.1364],[2.1953,0.1384],[2.2062,0.1373],[2.2189,0.1398],[2.2271,0.1401],[2.2278,0.1388],[2.0209,0.1339],[2.0349,0.1354],[2.0884,0.1364],[2.0759,0.1347],[2.1289,0.1359],[2.1284,0.1332],[2.1072,0.1336],[2.1103,0.1327],[2.1378,0.1319],[2.1541,0.1319],[2.1659,0.1335],[2.1835,0.1364],[2.1871,0.1338],[2.1835,0.1319],[2.1828,0.1296],[2.1862,0.1301],[2.1888,0.1300],[2.1925,0.1292],[2.1956,0.1308],[2.2015,0.1319],[2.2095,0.1348],[2.2127,0.1347],[2.2177,0.1327],[2.2133,0.1306],[2.2266,0.1343],[2.2338,0.1336],[2.2324,0.1310],[2.2226,0.1292],[2.2259,0.1300],[2.1910,0.1273],[2.2004,0.1278],[2.2247,0.1246],[1.9738,0.1290],[2.0144,0.1284],[2.0205,0.1270],[2.0506,0.1295],[2.0852,0.1301],[2.1195,0.1260],[2.1307,0.1261],[2.1366,0.1254],[2.1349,0.1244],[2.1503,0.1257],[2.1763,0.1262],[2.1784,0.1256]];

const tpUpperRight = [[2.2405,0.2462],[2.2453,0.2476],[2.2444,0.2442],[2.3449,0.2464],[2.2567,0.2369],[2.3419,0.2364],[2.4881,0.2407],[2.4646,0.2303],[2.4539,0.2285],[2.4975,0.2281],[2.4462,0.2239],[2.4454,0.2225],[2.4508,0.2174],[2.2381,0.2202],[2.2449,0.2192],[2.3513,0.2175],[2.3578,0.2152],[2.4795,0.2122],[2.2552,0.2104],[2.2789,0.2068],[2.3013,0.2086],[2.3068,0.2112],[2.3097,0.2072],[2.3335,0.2041],[2.3667,0.2051],[2.4378,0.2106],[2.4619,0.2055],[2.4104,0.2016],[2.4200,0.1983],[2.4723,0.1984],[2.4935,0.1954],[2.2543,0.1987],[2.2671,0.1973],[2.2697,0.1961],[2.2706,0.1953],[2.2774,0.1961],[2.3008,0.1959],[2.3299,0.1987],[2.3333,0.1975],[2.3378,0.2002],[2.3704,0.1991],[2.3615,0.1963],[2.4472,0.1933],[2.2507,0.1946],[2.2384,0.1897],[2.2490,0.1901],[2.2615,0.1881],[2.2641,0.1895],[2.2666,0.1882],[2.2683,0.1903],[2.2697,0.1909],[2.2738,0.1897],[2.2859,0.1882],[2.3287,0.1904],[2.3340,0.1893],[2.3487,0.1894],[2.3429,0.1872],[2.2418,0.1855],[2.2447,0.1854],[2.3068,0.1861],[2.3106,0.1855],[2.4166,0.1880],[2.4205,0.1860],[2.2721,0.1844],[2.2675,0.1815],[2.2692,0.1819],[2.2706,0.1823],[2.3330,0.1844],[2.3576,0.1847],[2.3620,0.1836],[2.3610,0.1820],[2.3675,0.1855],[2.3458,0.1827],[2.3302,0.1814],[2.3354,0.1796],[2.3709,0.1812],[2.3932,0.1822],[2.3797,0.1791],[2.4055,0.1785],[2.2427,0.1793],[2.2444,0.1778],[2.2552,0.1801],[2.2606,0.1798],[2.2624,0.1788],[2.2668,0.1788],[2.2765,0.1787],[2.2842,0.1807],[2.2849,0.1791],[2.2894,0.1803],[2.2901,0.1816],[2.2398,0.1762],[2.2398,0.1748],[2.2543,0.1770],[2.2567,0.1757],[2.2666,0.1758],[2.2757,0.1762],[2.3285,0.1774],[2.3287,0.1762],[2.3253,0.1760],[2.3236,0.1746],[2.3325,0.1734],[2.3581,0.1758],[2.3685,0.1770],[2.3689,0.1758],[2.2418,0.1726],[2.2456,0.1710],[2.2500,0.1702],[2.2610,0.1716],[2.2637,0.1715],[2.3048,0.1718],[2.3075,0.1721],[2.4448,0.1721],[2.2767,0.1694],[2.2974,0.1698],[2.3405,0.1679],[2.3581,0.1677],[2.3903,0.1672],[2.4850,0.1672],[2.2706,0.1664],[2.2516,0.1642],[2.2902,0.1651],[2.2923,0.1646],[2.2894,0.1622],[2.2971,0.1615],[2.3030,0.1632],[2.3085,0.1628],[2.3119,0.1622],[2.3136,0.1627],[2.3225,0.1627],[2.3319,0.1650],[2.3326,0.1630],[2.3699,0.1647],[2.3749,0.1617],[2.3841,0.1602],[2.3504,0.1608],[2.3634,0.1608],[2.4542,0.1642],[2.4530,0.1628],[2.4646,0.1617],[2.4684,0.1591],[2.4434,0.1591],[2.4993,0.1589],[2.2478,0.1601],[2.2526,0.1610],[2.2584,0.1622],[2.2675,0.1610],[2.2765,0.1589],[2.2803,0.1592],[2.2820,0.1592],[2.2806,0.1565],[2.2812,0.1569],[2.2868,0.1571],[2.2914,0.1573],[2.2957,0.1592],[2.3025,0.1600],[2.3205,0.1593],[2.3068,0.1566],[2.3809,0.1549],[2.3985,0.1564],[2.4097,0.1557],[2.4504,0.1549],[2.4879,0.1553],[2.4927,0.1499],[2.2485,0.1527],[2.2685,0.1537],[2.2624,0.1523],[2.2449,0.1501],[2.2449,0.1489],[2.2581,0.1487],[2.2589,0.1487],[2.2675,0.1485],[2.2712,0.1487],[2.2824,0.1511],[2.2815,0.1493],[2.2901,0.1511],[2.2974,0.1484],[2.3345,0.1536],[2.3386,0.1544],[2.3525,0.1487],[2.3709,0.1479],[2.3742,0.1442],[2.2458,0.1450],[2.2647,0.1446],[2.2752,0.1463],[2.2786,0.1469],[2.2818,0.1450],[2.2976,0.1423],[2.3008,0.1431],[2.3051,0.1419],[2.3075,0.1417],[2.2897,0.1404],[2.3393,0.1419],[2.4188,0.1427],[2.4593,0.1416],[2.2393,0.1383],[2.2524,0.1397],[2.2538,0.1382],[2.2634,0.1386],[2.2832,0.1383],[2.2444,0.1359],[2.2757,0.1364],[2.3248,0.1364],[2.3278,0.1335],[2.3667,0.1383],[2.3836,0.1345],[2.4588,0.1347],[2.2516,0.1328],[2.2629,0.1319],[2.2697,0.1332],[2.2786,0.1310],[2.2808,0.1314],[2.3046,0.1340],[2.3099,0.1332],[2.3082,0.1308],[2.3419,0.1337],[2.3448,0.1329],[2.3337,0.1310],[2.3364,0.1296],[2.4491,0.1318],[2.2384,0.1270],[2.2487,0.1282],[2.2601,0.1270],[2.2584,0.1247],[2.2641,0.1247],[2.2654,0.1244],[2.2880,0.1267],[2.3446,0.1280],[2.3489,0.1276],[2.3667,0.1289],[2.3997,0.1288],[2.4043,0.1265],[2.4185,0.1282],[2.4294,0.1248],[2.4385,0.1245],[2.4525,0.1266],[2.4040,0.1240]];

const testParticles = [].concat(tpUpperLeft, tpLowerLeft, tpLowerMid, tpLowerCentre, tpLowerRight, tpUpperMid, tpUpperRight);

// ---------------- chart ----------------
const FONT = 'DejaVu Sans';
const FS = 66.7;
const SUB = 46.7;
const L = 343, T = 156, W = 1688, H = 1219;
const lineStyle = {color: '#000', width: 2.7};
const tickStyle = {color: '#000', width: 2.5};

function isMajor(v) {
  return xMajorTicks.some(m => Math.abs(m - v) < 1e-6);
}

function xAxisDef(grid, pos, opts) {
  return Object.assign({
    type: 'value', gridIndex: grid, position: pos, min: 1.7, max: 2.5,
    splitLine: {show: false}, axisLabel: {show: false}
  }, opts);
}

const chart = echarts.init(document.getElementById('c'), null, {renderer: 'canvas', width: 2188, height: 1563});

const option = {
  backgroundColor: '#fff',
  animation: false,
  grid: [
    {left: L, top: T, width: W, height: H, containLabel: false},
    {left: L, top: T, width: W, height: H, containLabel: false}
  ],
  xAxis: [
    xAxisDef(0, 'bottom', {
      interval: 0.05,
      axisLine: {show: true, onZero: false, lineStyle: lineStyle},
      axisTick: {show: true, inside: true, length: 34, lineStyle: tickStyle},
      axisLabel: {show: true, interval: 0, hideOverlap: false,
        formatter: v => (isMajor(v) ? v.toFixed(1) : ''), margin: 24,
        color: '#000', fontSize: FS, fontFamily: FONT}
    }),
    xAxisDef(0, 'top', {
      interval: 0.05,
      axisLine: {show: true, onZero: false, lineStyle: lineStyle},
      axisTick: {show: true, inside: true, length: 34, lineStyle: tickStyle}
    }),
    xAxisDef(1, 'bottom', {
      axisLine: {show: false, onZero: false},
      axisTick: {show: true, inside: true, length: 69, customValues: xMajorTicks, lineStyle: tickStyle}
    }),
    xAxisDef(1, 'top', {
      axisLine: {show: false, onZero: false},
      axisTick: {show: true, inside: true, length: 69, customValues: xMajorTicks, lineStyle: tickStyle}
    })
  ],
  yAxis: [
    {type: 'value', gridIndex: 0, position: 'left', min: 0, max: 0.25, interval: 0.05,
      splitLine: {show: false},
      axisLine: {show: true, onZero: false, lineStyle: lineStyle},
      axisTick: {show: true, inside: true, length: 49, lineStyle: tickStyle},
      minorTick: {show: true, splitNumber: 5, length: 26, lineStyle: tickStyle},
      axisLabel: {show: true, formatter: v => v.toFixed(2), margin: 32, color: '#000', fontSize: FS, fontFamily: FONT}
    },
    {type: 'value', gridIndex: 0, position: 'right', min: 0, max: 0.25, interval: 0.05,
      splitLine: {show: false},
      axisLine: {show: true, onZero: false, lineStyle: lineStyle},
      axisTick: {show: true, inside: true, length: 49, lineStyle: tickStyle},
      minorTick: {show: true, splitNumber: 5, length: 26, lineStyle: tickStyle},
      axisLabel: {show: false}
    },
    {type: 'value', gridIndex: 1, min: 0, max: 0.25, show: false, axisLine: {onZero: false}},
    {type: 'value', gridIndex: 1, position: 'right', min: 0, max: 0.25, show: false, axisLine: {onZero: false}}
  ],
  series: [
    {
      type: 'scatter', name: 'Test particle', xAxisIndex: 0, yAxisIndex: 0,
      data: testParticles, symbol: 'circle', symbolSize: 5.4, clip: true,
      itemStyle: {color: 'rgba(0,0,0,0)', borderColor: '#808080', borderWidth: 2.5, opacity: 1},
      emphasis: {disabled: true}, silent: true, z: 2
    },
    {
      type: 'scatter', name: 'Planetesimal', xAxisIndex: 0, yAxisIndex: 0,
      data: planetesimals, symbol: 'path://M50,0L93.3,25L93.3,75L50,100L6.7,75L6.7,25Z',
      symbolSize: [19, 22], itemStyle: {color: '#ff0000', opacity: 1},
      emphasis: {disabled: true}, silent: true, z: 3
    },
    {
      type: 'scatter', name: 'Protoplanet', xAxisIndex: 0, yAxisIndex: 0,
      data: protoplanet, symbol: 'path://M0,41.3L100,41.3L100,58.7L0,58.7Z M41.3,0L58.7,0L58.7,100L41.3,100Z',
      symbolSize: [86, 86], itemStyle: {color: '#000000', opacity: 1},
      emphasis: {disabled: true}, silent: true, z: 4
    }
  ],
  graphic: []
};

function txt(x, y, text, size, color, extra) {
  return {
    type: 'text', x: x, y: y, silent: true, z: 100,
    style: Object.assign({
      text: text, fontSize: size, fontFamily: FONT, fill: color || '#000',
      align: 'left', verticalAlign: 'middle', textAlign: 'left', textVerticalAlign: 'middle'
    }, extra || {})
  };
}

option.graphic = [
  // title
  txt(805, 87.2, 'run4: v = 5v', FS),
  txt(1220, 117.6, 'esc', SUB),
  txt(1292, 87.2, ',', FS),
  txt(1330, 87.2, 'θ', FS, '#000', {fontStyle: 'italic'}),
  txt(1372, 87.2, '= 45°', FS),
  // legend texts
  txt(437, 291.2, 'Protoplanet', FS, '#0000ff'),
  txt(437, 354.2, 'Planetesimal', FS, '#ff0000'),
  txt(437, 417.2, 'Test particle', FS, '#808080'),
  // time annotation
  txt(1375, 292.2, 'Time: 10', FS),
  txt(1662, 264, '6', SUB),
  txt(1694, 292.2, ' yr (final)', FS),
  // axis titles
  txt(1187, 1501, 'semi-major axis [au]', FS, '#000', {align: 'center', textAlign: 'center'}),
  Object.assign(txt(94.2, 766, 'eccentricity', FS, '#000', {align: 'center', textAlign: 'center'}), {rotation: Math.PI / 2})
];

chart.setOption(option);
</script>
</body>
</html>
